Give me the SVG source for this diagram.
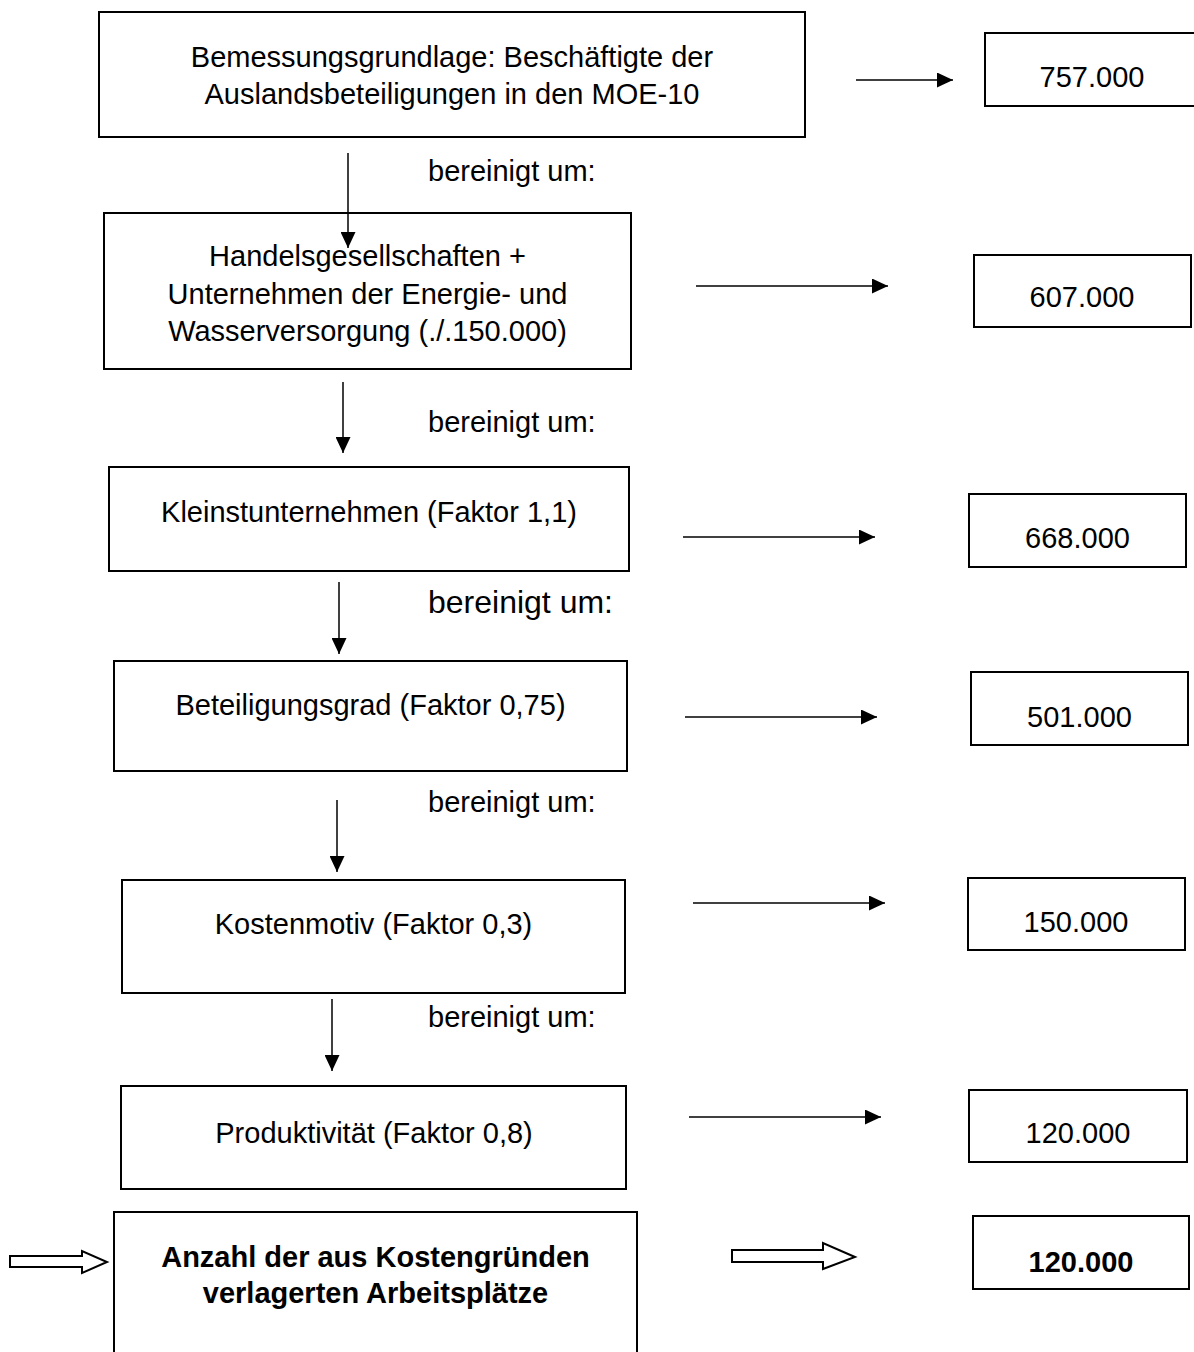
<svg xmlns="http://www.w3.org/2000/svg" width="1194" height="1352" viewBox="0 0 1194 1352">
<style>
.box{fill:#fff;stroke:#000;stroke-width:2}
.t{font-family:"Liberation Sans",Arial,sans-serif;font-size:29px;fill:#000}
.c{text-anchor:middle}
.b{font-weight:bold}
.ln{stroke:#000;stroke-width:1.5;fill:none}
.hollow{fill:#fff;stroke:#000;stroke-width:2}
</style>
<defs>
<marker id="ah" markerUnits="userSpaceOnUse" markerWidth="16" markerHeight="15" refX="16" refY="7.5" orient="auto">
<path d="M0,0 L16,7.5 L0,15 Z" fill="#000"/>
</marker>
</defs>
<rect width="1194" height="1352" fill="#fff"/>

<g id="n1">
<rect class="box" x="99" y="12" width="706" height="125"/>
<text class="t c" x="452" y="67">Bemessungsgrundlage: Beschäftigte der</text>
<text class="t c" x="452" y="104">Auslandsbeteiligungen in den MOE-10</text>
</g>
<g id="v1">
<rect class="box" x="985" y="33" width="220" height="73"/>
<text class="t c" x="1092" y="87">757.000</text>
</g>

<g id="n2">
<rect class="box" x="104" y="213" width="527" height="156"/>
<text class="t c" x="367.5" y="266">Handelsgesellschaften +</text>
<text class="t c" x="367.5" y="304">Unternehmen der Energie- und</text>
<text class="t c" x="367.5" y="341">Wasserversorgung (./.150.000)</text>
</g>
<g id="v2">
<rect class="box" x="974" y="255" width="217" height="72"/>
<text class="t c" x="1082" y="307">607.000</text>
</g>

<g id="n3">
<rect class="box" x="109" y="467" width="520" height="104"/>
<text class="t c" x="369" y="522">Kleinstunternehmen (Faktor 1,1)</text>
</g>
<g id="v3">
<rect class="box" x="969" y="494" width="217" height="73"/>
<text class="t c" x="1077.5" y="548">668.000</text>
</g>

<g id="n4">
<rect class="box" x="114" y="661" width="513" height="110"/>
<text class="t c" x="370.5" y="715">Beteiligungsgrad (Faktor 0,75)</text>
</g>
<g id="v4">
<rect class="box" x="971" y="672" width="217" height="73"/>
<text class="t c" x="1079.5" y="727">501.000</text>
</g>

<g id="n5">
<rect class="box" x="122" y="880" width="503" height="113"/>
<text class="t c" x="373.5" y="934">Kostenmotiv (Faktor 0,3)</text>
</g>
<g id="v5">
<rect class="box" x="968" y="878" width="217" height="72"/>
<text class="t c" x="1076" y="932">150.000</text>
</g>

<g id="n6">
<rect class="box" x="121" y="1086" width="505" height="103"/>
<text class="t c" x="374" y="1143">Produktivität (Faktor 0,8)</text>
</g>
<g id="v6">
<rect class="box" x="969" y="1090" width="218" height="72"/>
<text class="t c" x="1078" y="1143">120.000</text>
</g>

<g id="n7">
<rect class="box" x="114" y="1212" width="523" height="150"/>
<text class="t c b" x="375.5" y="1267">Anzahl der aus Kostengründen</text>
<text class="t c b" x="375.5" y="1303">verlagerten Arbeitsplätze</text>
</g>
<g id="v7">
<rect class="box" x="973" y="1216" width="216" height="73"/>
<text class="t c b" x="1081" y="1272">120.000</text>
</g>

<g id="labels">
<text class="t" x="428" y="181">bereinigt um:</text>
<text class="t" x="428" y="432">bereinigt um:</text>
<text class="t" x="428" y="613" style="font-size:32px">bereinigt um:</text>
<text class="t" x="428" y="812">bereinigt um:</text>
<text class="t" x="428" y="1027">bereinigt um:</text>
</g>

<g id="connectors">
<line class="ln" x1="856" y1="80" x2="953" y2="80" marker-end="url(#ah)"/>
<line class="ln" x1="348" y1="153" x2="348" y2="248" marker-end="url(#ah)"/>
<line class="ln" x1="696" y1="286" x2="888" y2="286" marker-end="url(#ah)"/>
<line class="ln" x1="343" y1="382" x2="343" y2="453" marker-end="url(#ah)"/>
<line class="ln" x1="683" y1="537" x2="875" y2="537" marker-end="url(#ah)"/>
<line class="ln" x1="339" y1="582" x2="339" y2="654" marker-end="url(#ah)"/>
<line class="ln" x1="685" y1="717" x2="877" y2="717" marker-end="url(#ah)"/>
<line class="ln" x1="337" y1="800" x2="337" y2="872" marker-end="url(#ah)"/>
<line class="ln" x1="693" y1="903" x2="885" y2="903" marker-end="url(#ah)"/>
<line class="ln" x1="332" y1="999" x2="332" y2="1071" marker-end="url(#ah)"/>
<line class="ln" x1="689" y1="1117" x2="881" y2="1117" marker-end="url(#ah)"/>
<polygon class="hollow" points="10,1256 82,1256 82,1251 107,1262 82,1273 82,1267 10,1267"/>
<polygon class="hollow" points="732,1250 823,1250 823,1243 855,1257 823,1269 823,1262 732,1262"/>
</g>
</svg>
